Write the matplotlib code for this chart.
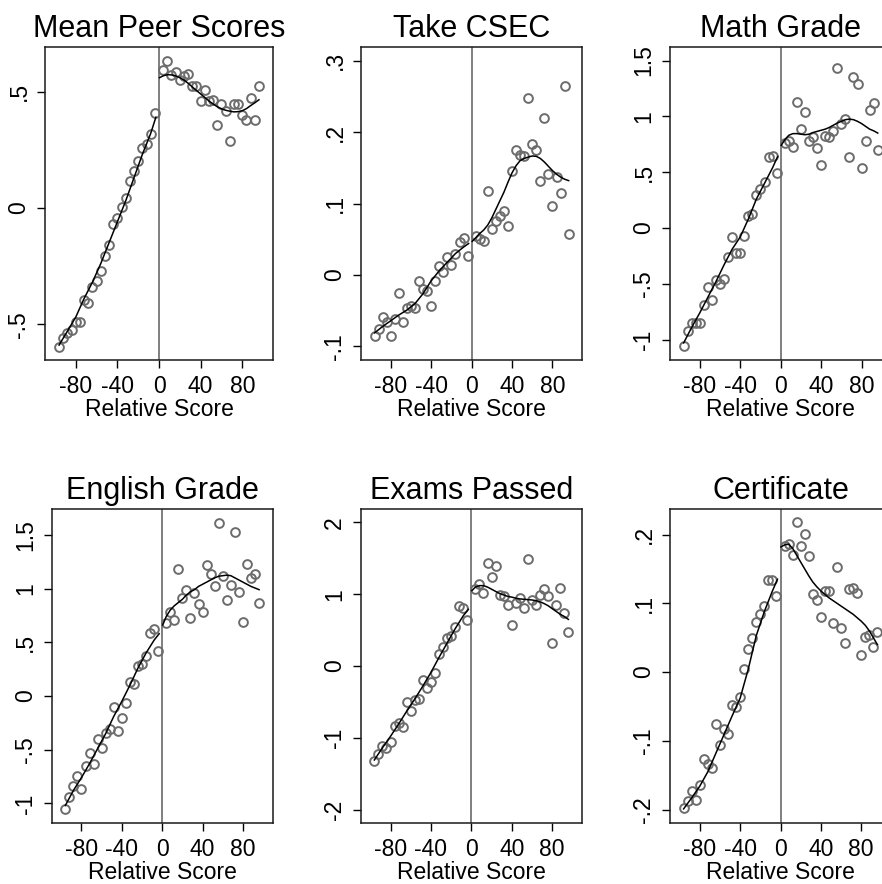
import matplotlib
matplotlib.use("Agg")
import matplotlib.pyplot as plt

plt.rcParams["font.family"] = ["Liberation Sans", "DejaVu Sans"]
plt.rcParams["axes.unicode_minus"] = False

# Bin centres of the relative score, below and above the cutoff
score_below = [-96, -92, -88, -84, -80, -76, -72, -68, -64, -60, -56, -52,
               -48, -44, -40, -36, -32, -28, -24, -20, -16, -12, -8, -4]
score_above = [4, 8, 12, 16, 20, 24, 28, 32, 36, 40, 44, 48,
               52, 56, 60, 64, 68, 72, 76, 80, 84, 88, 92, 96]

# Grid on which the smoothed fits are reported
fit_grid_below = [-96, -88, -80, -72, -64, -56, -48, -40, -32, -24, -16, -8, -3]
fit_grid_above = [0.5, 4, 8, 12, 16, 20, 24, 28, 32, 36, 40, 44, 48,
                  52, 56, 60, 64, 68, 72, 76, 80, 84, 88, 92, 96]

# Mean Peer Scores
peer_below = [-0.596, -0.560, -0.536, -0.524, -0.490, -0.490, -0.397, -0.407,
              -0.338, -0.313, -0.270, -0.208, -0.159, -0.069, -0.043, 0.003,
              0.043, 0.114, 0.158, 0.201, 0.257, 0.273, 0.319, 0.409]
peer_above = [0.595, 0.632, 0.570, 0.585, 0.552, 0.566, 0.578, 0.523,
              0.523, 0.458, 0.509, 0.458, 0.463, 0.355, 0.448, 0.415,
              0.287, 0.448, 0.448, 0.398, 0.376, 0.474, 0.376, 0.523]
peer_fit_below = [-0.59, -0.53, -0.47, -0.39, -0.32, -0.24, -0.15, -0.06,
                  0.03, 0.13, 0.23, 0.32, 0.39]
peer_fit_above = [0.560, 0.568, 0.573, 0.572, 0.568, 0.560, 0.550, 0.536,
                  0.520, 0.505, 0.490, 0.475, 0.460, 0.447, 0.435, 0.426,
                  0.420, 0.416, 0.413, 0.414, 0.418, 0.427, 0.440, 0.452, 0.465]

# Take CSEC
csec_below = [-0.0861, -0.0758, -0.0594, -0.0664, -0.0861, -0.0618, -0.0253, -0.0655,
              -0.0468, -0.0440, -0.0463, -0.0089, -0.0197, -0.0229, -0.0440, -0.0080,
              0.0122, 0.0037, 0.0257, 0.0145, 0.0295, 0.0459, 0.0519, 0.0262]
csec_above = [0.054, 0.051, 0.047, 0.118, 0.065, 0.076, 0.082, 0.089,
              0.068, 0.145, 0.175, 0.168, 0.166, 0.248, 0.183, 0.175,
              0.131, 0.220, 0.141, 0.096, 0.137, 0.114, 0.264, 0.057]
csec_fit_below = [-0.081, -0.072, -0.064, -0.056, -0.049, -0.040, -0.026, -0.008,
                  0.006, 0.018, 0.030, 0.039, 0.044]
csec_fit_above = [0.047, 0.052, 0.058, 0.063, 0.070, 0.080, 0.092, 0.104,
                  0.116, 0.130, 0.143, 0.153, 0.160, 0.163, 0.165, 0.1665,
                  0.166, 0.163, 0.158, 0.152, 0.146, 0.141, 0.137, 0.134, 0.132]

# Math Grade
math_below = [-1.062, -0.921, -0.852, -0.852, -0.852, -0.687, -0.531, -0.642,
              -0.462, -0.501, -0.453, -0.261, -0.081, -0.222, -0.222, -0.072,
              0.108, 0.129, 0.297, 0.348, 0.408, 0.639, 0.648, 0.489]
math_above = [0.759, 0.783, 0.729, 1.128, 0.888, 1.038, 0.783, 0.813,
              0.717, 0.567, 0.828, 0.819, 0.867, 1.429, 0.933, 0.972,
              0.639, 1.354, 1.294, 0.537, 0.777, 1.053, 1.119, 0.699]
math_fit_below = [-1.03, -0.89, -0.76, -0.62, -0.48, -0.33, -0.19, -0.08,
                  0.08, 0.26, 0.40, 0.54, 0.64]
math_fit_above = [0.74, 0.79, 0.83, 0.845, 0.845, 0.84, 0.835, 0.84,
                  0.855, 0.865, 0.875, 0.885, 0.90, 0.92, 0.94, 0.955,
                  0.97, 0.975, 0.97, 0.955, 0.935, 0.91, 0.885, 0.87, 0.85]

# English Grade
english_below = [-1.057, -0.938, -0.835, -0.745, -0.867, -0.651, -0.533, -0.636,
                 -0.399, -0.480, -0.346, -0.309, -0.103, -0.330, -0.206, -0.065,
                 0.128, 0.112, 0.277, 0.293, 0.371, 0.583, 0.627, 0.418]
english_above = [0.683, 0.786, 0.711, 1.181, 0.916, 0.988, 0.729, 0.957,
                 0.860, 0.786, 1.219, 1.132, 1.026, 1.615, 1.119, 0.895,
                 1.035, 1.524, 0.969, 0.692, 1.228, 1.100, 1.135, 0.863]
english_fit_below = [-1.02, -0.88, -0.76, -0.63, -0.49, -0.35, -0.19, -0.05,
                     0.10, 0.26, 0.40, 0.52, 0.58]
english_fit_above = [0.66, 0.74, 0.80, 0.84, 0.87, 0.90, 0.94, 0.97,
                     0.99, 1.02, 1.04, 1.06, 1.08, 1.10, 1.115, 1.12,
                     1.125, 1.12, 1.10, 1.08, 1.06, 1.04, 1.02, 1.005, 0.99]

# Exams Passed
exams_below = [-1.322, -1.229, -1.121, -1.145, -1.061, -0.832, -0.794, -0.855,
               -0.500, -0.631, -0.467, -0.453, -0.201, -0.313, -0.220, -0.093,
               0.173, 0.266, 0.397, 0.421, 0.537, 0.832, 0.808, 0.640]
exams_above = [1.075, 1.136, 1.014, 1.439, 1.238, 1.388, 0.995, 0.972,
               0.855, 0.570, 0.879, 0.944, 0.804, 1.486, 0.925, 0.850,
               0.991, 1.075, 0.972, 0.318, 0.855, 1.089, 0.738, 0.477]
exams_fit_below = [-1.31, -1.14, -0.98, -0.81, -0.63, -0.46, -0.28, -0.09,
                   0.12, 0.32, 0.52, 0.70, 0.79]
exams_fit_above = [1.05, 1.10, 1.12, 1.12, 1.10, 1.07, 1.04, 1.01,
                   0.99, 0.97, 0.96, 0.945, 0.935, 0.93, 0.925, 0.92,
                   0.91, 0.895, 0.87, 0.84, 0.80, 0.76, 0.72, 0.69, 0.65]

# Certificate
cert_below = [-0.1976, -0.1878, -0.1737, -0.1863, -0.1649, -0.1259, -0.1332, -0.1395,
              -0.0756, -0.1063, -0.0829, -0.0898, -0.0483, -0.0512, -0.0361, 0.0049,
              0.0332, 0.0493, 0.0722, 0.0839, 0.0966, 0.1341, 0.1332, 0.1112]
cert_above = [0.1839, 0.1863, 0.1698, 0.2176, 0.1834, 0.2005, 0.1688, 0.1137,
              0.1054, 0.0805, 0.1176, 0.1185, 0.0715, 0.1522, 0.0634, 0.0424,
              0.1205, 0.1220, 0.1146, 0.0244, 0.0517, 0.0541, 0.0361, 0.0585]
cert_fit_below = [-0.199, -0.183, -0.166, -0.145, -0.118, -0.091, -0.064, -0.038,
                  0.004, 0.053, 0.088, 0.118, 0.135]
cert_fit_above = [0.182, 0.185, 0.186, 0.180, 0.170, 0.160, 0.150, 0.140,
                  0.131, 0.124, 0.118, 0.113, 0.108, 0.104, 0.100, 0.096,
                  0.092, 0.088, 0.084, 0.079, 0.074, 0.068, 0.060, 0.050, 0.040]

titles = ["Mean Peer Scores", "Take CSEC", "Math Grade",
          "English Grade", "Exams Passed", "Certificate"]
x_ticks = [-80, -40, 0, 40, 80]
x_tick_labels = ["-80", "-40", "0", "40", "80"]
y_ticks = [
    ([-0.5, 0, 0.5], ["-.5", "0", ".5"]),
    ([-0.1, 0, 0.1, 0.2, 0.3], ["-.1", "0", ".1", ".2", ".3"]),
    ([-1, -0.5, 0, 0.5, 1, 1.5], ["-1", "-.5", "0", ".5", "1", "1.5"]),
    ([-1, -0.5, 0, 0.5, 1, 1.5], ["-1", "-.5", "0", ".5", "1", "1.5"]),
    ([-2, -1, 0, 1, 2], ["-2", "-1", "0", "1", "2"]),
    ([-0.2, -0.1, 0, 0.1, 0.2], ["-.2", "-.1", "0", ".1", ".2"]),
]

panels = [
    (peer_below, peer_above, peer_fit_below, peer_fit_above),
    (csec_below, csec_above, csec_fit_below, csec_fit_above),
    (math_below, math_above, math_fit_below, math_fit_above),
    (english_below, english_above, english_fit_below, english_fit_above),
    (exams_below, exams_above, exams_fit_below, exams_fit_above),
    (cert_below, cert_above, cert_fit_below, cert_fit_above),
]

# Axes placement in pixels: (left, top, width, height) on an 882 x 884 canvas
W, H = 882.0, 884.0
boxes = [
    (45.0, 47.0, 228.0, 313.0),
    (361.0, 47.0, 221.3, 313.0),
    (670.0, 47.0, 221.4, 313.0),
    (51.7, 509.0, 221.0, 314.0),
    (360.7, 509.0, 221.3, 314.0),
    (670.0, 509.0, 221.0, 314.0),
]
y_limits = [(-0.654, 0.692), (-0.119, 0.319), (-1.183, 1.621),
            (-1.183, 1.741), (-2.188, 2.188), (-0.2196, 0.2372)]
x_limit = (-109.5, 109.5)

fig = plt.figure(figsize=(W / 100, H / 100), dpi=100)

for i, (below, above, fit_below, fit_above) in enumerate(panels):
    left, top, width, height = boxes[i]
    ax = fig.add_axes([left / W, 1 - (top + height) / H, width / W, height / H])

    ax.axvline(0, color="#5c5c5c", lw=1.1, zorder=1)
    ax.plot(score_below, below, "o", ms=6.3, mfc="none", mec="#6c6c6c", mew=1.4, zorder=2)
    ax.plot(score_above, above, "o", ms=6.3, mfc="none", mec="#6c6c6c", mew=1.4, zorder=2)
    ax.plot(fit_grid_below, fit_below, color="black", lw=1.1, zorder=3)
    ax.plot(fit_grid_above, fit_above, color="black", lw=1.1, zorder=3)

    ax.set_xlim(*x_limit)
    ax.set_ylim(*y_limits[i])
    ax.set_xticks(x_ticks)
    ax.set_xticklabels(x_tick_labels)
    yt, yl = y_ticks[i]
    ax.set_yticks(yt)
    ax.set_yticklabels(yl, rotation=90, va="center")

    ax.tick_params(direction="out", length=5.5, width=1.0, pad=5,
                   labelsize=16.5, colors="black", top=False, right=False)
    for sp in ax.spines.values():
        sp.set_linewidth(1.1)
        sp.set_color("#1a1a1a")

    ax.set_title(titles[i], fontsize=22, pad=7.5)
    ax.set_xlabel("Relative Score", fontsize=16.5, labelpad=0)

fig.savefig("out.png", dpi=100)
